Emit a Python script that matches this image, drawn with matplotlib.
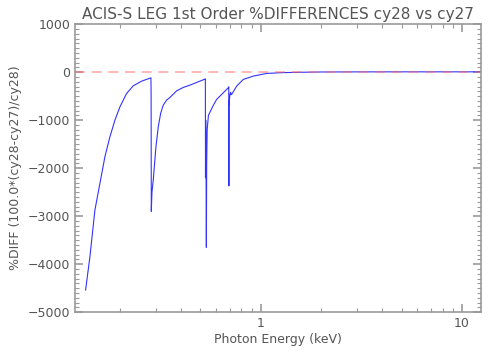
#!/usr/bin/env python3
"""ACIS-S LEG 1st order percent differences, cy28 vs cy27."""

import matplotlib
matplotlib.use("Agg")
import matplotlib.pyplot as plt
from matplotlib.ticker import FixedLocator, LogLocator, MultipleLocator, NullFormatter

# photon energy (keV) and %DIFF
energy = [
    0.1342, 0.1410, 0.1493, 0.1581, 0.1674, 0.1773, 0.1878, 0.1989,
    0.2147, 0.2316, 0.2549, 0.2836,
    0.2842, 0.2848, 0.2870, 0.2912, 0.3004, 0.3084, 0.3170, 0.3265,
    0.3395, 0.3526, 0.3807, 0.4107, 0.4432, 0.4787, 0.5265,
    0.5290, 0.5298, 0.531, 0.533, 0.535, 0.537, 0.540, 0.548,
    0.579, 0.6018, 0.6373, 0.6875, 0.6915,
    0.6925, 0.6935, 0.700, 0.706, 0.710, 0.7147, 0.757, 0.8165,
    0.9155, 1.067, 1.291, 1.6, 2.0, 3.0, 5.0, 8.0, 12.4,
]
pct_diff = [
    -4540, -3848, -2875, -2319, -1765, -1348, -1000, -723,
    -444, -285, -188, -119,
    -470, -2900, -2500, -2250, -1556, -1140, -860, -688,
    -583, -527, -390, -319, -271, -215, -146,
    -140, -2200, -1000, -1900, -3650, -1900, -1200, -900,
    -694, -569, -465, -327, -306,
    -2370, -700, -480, -420, -470, -465, -292, -152,
    -83, -27, -10, -3, 3, 5, 6, 6, 6,
]

AXIS_GRAY = "#999999"
TEXT_GRAY = "#555555"

fig = plt.figure(figsize=(5.04, 3.6), dpi=100)
ax = fig.add_axes([0.149, 0.133, 0.805, 0.8])

ax.plot(energy, pct_diff, color="#3333ff", linewidth=0.8)
ax.axhline(0, color="#ff6666", alpha=0.55, linewidth=1.2, dashes=(6, 4))

ax.set_xscale("log")
ax.set_xlim(0.119, 12.4)
ax.set_ylim(-5000, 1000)

ax.xaxis.set_major_locator(FixedLocator([1, 10]))
ax.set_xticklabels(["1", "10"])
ax.xaxis.set_minor_locator(LogLocator(base=10, subs=range(2, 10)))
ax.xaxis.set_minor_formatter(NullFormatter())
ax.yaxis.set_major_locator(MultipleLocator(1000))
ax.yaxis.set_minor_locator(MultipleLocator(100))

ax.tick_params(which="both", direction="in", top=True, right=True,
               color=AXIS_GRAY, labelcolor=TEXT_GRAY, labelsize=9)
ax.tick_params(which="major", length=6, width=1.2)
ax.tick_params(which="minor", length=3, width=0.8)
for sp in ax.spines.values():
    sp.set_color(AXIS_GRAY)
    sp.set_linewidth(1.2)

ax.set_xlabel("Photon Energy (keV)", color=TEXT_GRAY, fontsize=9, labelpad=2)
ax.set_ylabel("%DIFF (100.0*(cy28-cy27)/cy28)", color=TEXT_GRAY, fontsize=9)
ax.set_title("ACIS-S LEG 1st Order %DIFFERENCES cy28 vs cy27",
             color=TEXT_GRAY, fontsize=11, pad=4)

fig.savefig("out.png", dpi=100)
